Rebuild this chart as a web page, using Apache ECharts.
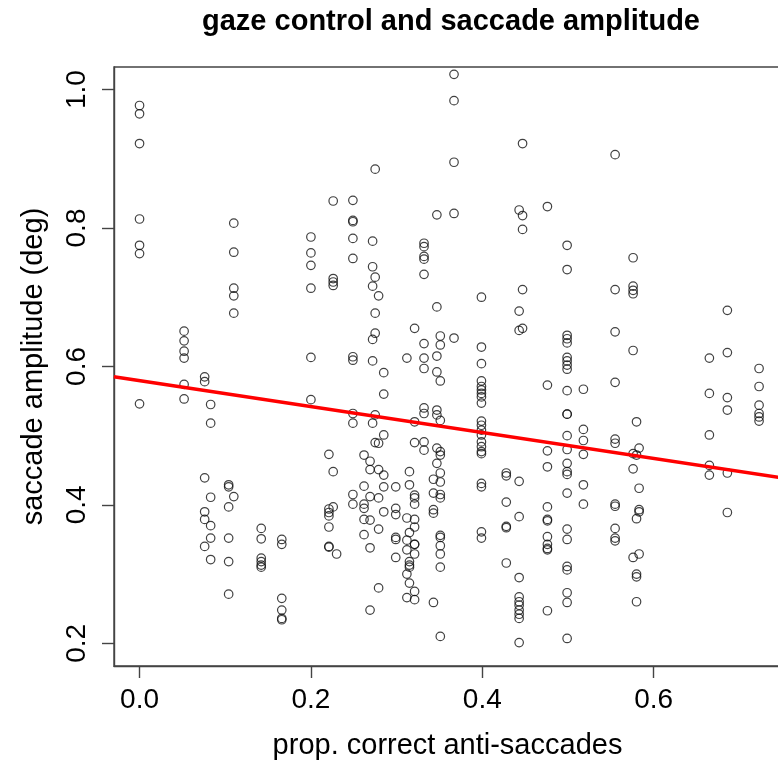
<!DOCTYPE html>
<html>
<head>
<meta charset="utf-8">
<script src="https://cdn.jsdelivr.net/npm/echarts@6/dist/echarts.min.js"></script>
<style>
    html, body { margin: 0; padding: 0; background: #fff; }
    #scatter { width: 778px; height: 760px; }
</style>
</head>
<body>
<div id="scatter"></div>
<script>
// x value of each column of points (proportion of correct anti-saccades)
var propCorrect = [0, 0.052, 0.076, 0.083, 0.104, 0.110, 0.142, 0.166, 0.200, 0.221,
    0.226, 0.230, 0.249, 0.262, 0.269, 0.272, 0.275, 0.279, 0.285, 0.299,
    0.312, 0.315, 0.321, 0.332, 0.343, 0.347, 0.351, 0.367, 0.399, 0.428,
    0.443, 0.447, 0.476, 0.499, 0.518, 0.555, 0.576, 0.580, 0.583, 0.665,
    0.686, 0.723];
// saccade amplitudes (deg) in each column, same order as propCorrect
var amplitude = [
    [0.977, 0.965, 0.922, 0.813, 0.775, 0.763, 0.546],
    [0.651, 0.637, 0.622, 0.612, 0.574, 0.553],
    [0.585, 0.578, 0.439, 0.390, 0.379, 0.340],
    [0.545, 0.518, 0.411, 0.370, 0.352, 0.321],
    [0.429, 0.426, 0.397, 0.352, 0.318, 0.271],
    [0.807, 0.765, 0.713, 0.702, 0.677, 0.412],
    [0.366, 0.351, 0.323, 0.318, 0.313, 0.310],
    [0.350, 0.343, 0.265, 0.248, 0.236, 0.234],
    [0.787, 0.764, 0.746, 0.713, 0.613, 0.552],
    [0.473, 0.394, 0.389, 0.384, 0.368, 0.340, 0.339],
    [0.839, 0.727, 0.722, 0.717, 0.448, 0.397],
    [0.329],
    [0.840, 0.811, 0.809, 0.785, 0.756, 0.614, 0.609, 0.532, 0.518, 0.415, 0.401],
    [0.472, 0.427, 0.401, 0.395, 0.379, 0.357],
    [0.463, 0.451, 0.412, 0.378, 0.338, 0.248],
    [0.781, 0.744, 0.716, 0.639, 0.608, 0.518],
    [0.885, 0.729, 0.677, 0.648, 0.530, 0.490],
    [0.702, 0.489, 0.451, 0.410, 0.365, 0.280],
    [0.591, 0.560, 0.501, 0.443, 0.426, 0.390],
    [0.426, 0.395, 0.386, 0.353, 0.350, 0.324],
    [0.612, 0.381, 0.349, 0.335, 0.300, 0.266],
    [0.448, 0.429, 0.360, 0.318, 0.313, 0.310, 0.287],
    [0.655, 0.520, 0.490, 0.414, 0.410, 0.401, 0.379, 0.368, 0.343, 0.343, 0.329, 0.275, 0.263],
    [0.778, 0.773, 0.759, 0.755, 0.733, 0.633, 0.612, 0.597, 0.540, 0.532, 0.491, 0.479],
    [0.437, 0.417, 0.393, 0.388, 0.259],
    [0.819, 0.686, 0.615, 0.592, 0.537, 0.530, 0.482, 0.460],
    [0.644, 0.631, 0.579, 0.522, 0.477, 0.472, 0.446, 0.433, 0.415, 0.410, 0.356, 0.353, 0.341, 0.329, 0.310, 0.210],
    [1.022, 0.984, 0.895, 0.821, 0.641],
    [0.700, 0.628, 0.604, 0.579, 0.571, 0.566, 0.561, 0.556, 0.547, 0.521, 0.515, 0.508, 0.501, 0.491, 0.484, 0.477, 0.474, 0.431, 0.426, 0.361, 0.352],
    [0.446, 0.442, 0.404, 0.369, 0.367, 0.316],
    [0.826, 0.680, 0.652, 0.434, 0.383, 0.295, 0.267, 0.260, 0.255, 0.248, 0.242, 0.236, 0.201],
    [0.922, 0.818, 0.798, 0.711, 0.655],
    [0.831, 0.573, 0.478, 0.455, 0.397, 0.379, 0.377, 0.354, 0.343, 0.337, 0.335, 0.247],
    [0.775, 0.740, 0.645, 0.640, 0.634, 0.613, 0.608, 0.602, 0.596, 0.565, 0.531, 0.531, 0.500, 0.480, 0.460, 0.448, 0.444, 0.417, 0.365, 0.350, 0.311, 0.306, 0.273, 0.259, 0.207],
    [0.567, 0.509, 0.493, 0.473, 0.429, 0.401],
    [0.906, 0.711, 0.650, 0.577, 0.495, 0.489, 0.401, 0.398, 0.366, 0.352, 0.348],
    [0.757, 0.716, 0.710, 0.705, 0.623, 0.474, 0.452, 0.324],
    [0.520, 0.472, 0.380, 0.300, 0.296, 0.260],
    [0.482, 0.424, 0.393, 0.390, 0.329],
    [0.612, 0.561, 0.501, 0.457, 0.443],
    [0.681, 0.620, 0.555, 0.537, 0.446, 0.389],
    [0.597, 0.571, 0.544, 0.532, 0.527, 0.521]
];
// fitted regression line, read at both ends of the plot
var fitLine = [[-0.03, 0.585], [0.75, 0.439]];
var xTicks = [0, 0.2, 0.4, 0.6];
var yTicks = [0.2, 0.4, 0.6, 0.8, 1.0];

var points = [];
propCorrect.forEach(function (x, i) {
    amplitude[i].forEach(function (y) {
        points.push([x, y]);
    });
});

var font = 'Liberation Sans, Arial, Helvetica, sans-serif';
var ink = '#444';

var chart = echarts.init(document.getElementById('scatter'));
chart.setOption({
    animation: false,
    title: {
        text: 'gaze control and saccade amplitude',
        left: 446,
        top: 2,
        textAlign: 'center',
        textStyle: { fontFamily: font, fontWeight: 'bold', fontSize: 29, color: '#000' }
    },
    grid: {
        left: 114,
        top: 67,
        right: -3,
        bottom: 94,
        outerBoundsMode: 'none',
        show: true,
        borderColor: ink,
        borderWidth: 1.4
    },
    xAxis: {
        type: 'value',
        min: -0.0298,
        max: 0.7486,
        name: 'prop. correct anti-saccades',
        nameLocation: 'middle',
        nameGap: 65,
        nameTextStyle: { fontFamily: font, fontSize: 29, color: '#000' },
        axisLine: { show: true, onZero: false, lineStyle: { color: ink, width: 1.4 } },
        axisTick: { show: true, length: 12, customValues: xTicks, lineStyle: { color: ink, width: 1.4 } },
        axisLabel: {
            customValues: xTicks,
            margin: 20,
            fontFamily: font,
            fontSize: 28,
            color: '#000',
            formatter: function (v) { return v.toFixed(1); }
        },
        splitLine: { show: false }
    },
    yAxis: {
        type: 'value',
        min: 0.1672,
        max: 1.0326,
        name: 'saccade amplitude (deg)',
        nameLocation: 'middle',
        nameRotate: 90,
        nameGap: 66,
        nameTextStyle: { fontFamily: font, fontSize: 29, color: '#000' },
        axisLine: { show: true, onZero: false, lineStyle: { color: ink, width: 1.4 } },
        axisTick: { show: true, length: 12, customValues: yTicks, lineStyle: { color: ink, width: 1.4 } },
        axisLabel: {
            customValues: yTicks,
            rotate: 90,
            margin: 23,
            fontFamily: font,
            fontSize: 28,
            color: '#000',
            formatter: function (v) { return v.toFixed(1); }
        },
        splitLine: { show: false }
    },
    series: [
        {
            name: 'points',
            type: 'scatter',
            symbol: 'circle',
            symbolSize: 8.5,
            itemStyle: { color: 'transparent', borderColor: '#111', borderWidth: 1.2 },
            data: points
        },
        {
            name: 'fit',
            type: 'line',
            symbol: 'none',
            clip: true,
            lineStyle: { color: '#ff0000', width: 3.5 },
            data: fitLine,
            z: 3
        }
    ]
});
</script>
</body>
</html>
